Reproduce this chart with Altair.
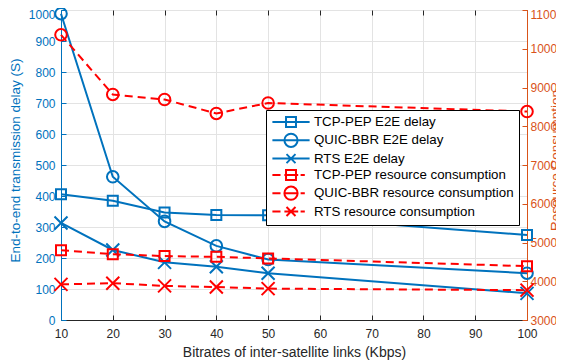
import altair as alt
import pandas as pd

bitrates = [10, 20, 30, 40, 50, 100]

tcp_delay = [406, 385, 347, 339, 338, 274]
quic_delay = [988, 462, 318, 239, 195, 151]
rts_delay = [313, 226, 186, 172, 151, 86]

tcp_res = [4800, 4700, 4650, 4630, 4590, 4390]
quic_res = [10360, 8820, 8690, 8330, 8600, 8380]
rts_res = [3920, 3950, 3880, 3850, 3810, 3770]

delay_names = ["TCP-PEP E2E delay", "QUIC-BBR E2E delay", "RTS E2E delay"]
res_names = ["TCP-PEP resource consumption", "QUIC-BBR resource consumption",
             "RTS resource consumption"]
all_names = delay_names + res_names

x_ticks = list(range(10, 101, 10))
left_ticks = list(range(0, 1001, 100))
right_ticks = list(range(3000, 11001, 1000))

rows = []
for name, vals in zip(delay_names, [tcp_delay, quic_delay, rts_delay]):
    for b, v in zip(bitrates, vals):
        rows.append({"bitrate": b, "delay": v, "series": name})
delay_df = pd.DataFrame(rows)

rows = []
for name, vals in zip(res_names, [tcp_res, quic_res, rts_res]):
    for b, v in zip(bitrates, vals):
        rows.append({"bitrate": b, "resource": v, "series": name})
res_df = pd.DataFrame(rows)

BLUE = "#0072BD"
RED = "#FF0000"
ORANGE = "#D95319"
DARK = "#262626"
FONT = "Liberation Sans"
INWARD = alt.ExprRef(expr="-5")

x_scale = alt.Scale(domain=[10, 100], nice=False)
XMARK = "M-1,-1L1,1M-1,1L1,-1"

x_enc = alt.X(
    "bitrate:Q", scale=x_scale,
    axis=alt.Axis(values=x_ticks, title="Bitrates of inter-satellite links (Kbps)",
                  grid=True, gridColor="#E3E3E3", ticks=True, tickSize=INWARD,
                  tickColor=DARK, tickWidth=1, labelFlush=False,
                  domainColor=DARK, labelColor=DARK, titleColor=DARK,
                  labelFontSize=12, titleFontSize=14, labelPadding=13,
                  labelFont=FONT, titleFont=FONT, titleFontWeight="normal",
                  titleY=36, titleBaseline="alphabetic"),
)

x_top = alt.X(
    "bitrate:Q", scale=x_scale,
    axis=alt.Axis(orient="top", values=x_ticks, title=None, labels=False,
                  grid=False, domain=False, ticks=True, tickSize=INWARD,
                  tickColor=DARK, tickWidth=1),
)

y_left = alt.Y(
    "delay:Q",
    scale=alt.Scale(domain=[0, 1000], nice=False, zero=False),
    axis=alt.Axis(orient="left", values=left_ticks,
                  title="End-to-end transmission delay (S)",
                  grid=True, gridColor="#E3E3E3", ticks=True, tickSize=INWARD,
                  tickColor=BLUE, tickWidth=1, labelFlush=False,
                  labelOffset={"condition": {"test": "datum.value === 1000", "value": 4},
                               "value": 0},
                  domainColor=BLUE, labelColor=BLUE, titleColor=BLUE,
                  labelFontSize=12, titleFontSize=13.5, labelPadding=11,
                  labelFont=FONT, titleFont=FONT, titleFontWeight="normal",
                  titleX=-46, titleY=150, titleAngle=270, titleAlign="center",
                  titleBaseline="middle", format="d"),
)

y_right = alt.Y(
    "resource:Q",
    scale=alt.Scale(domain=[3000, 11000], nice=False, zero=False),
    axis=alt.Axis(orient="right", values=right_ticks,
                  title="Resource Consumption",
                  grid=False, ticks=True, tickSize=INWARD,
                  tickColor=ORANGE, tickWidth=1, labelFlush=False,
                  labelOffset={"condition": {"test": "datum.value === 11000", "value": 4},
                               "value": 0},
                  domainColor=ORANGE, labelColor=ORANGE, titleColor=ORANGE,
                  labelFontSize=12, titleFontSize=13.5, labelPadding=8,
                  labelFont=FONT, titleFont=FONT, titleFontWeight="normal",
                  titleX=28, titleY=150, titleAngle=270, titleAlign="center",
                  titleBaseline="middle", format="d"),
)

delay_color = alt.Scale(domain=delay_names, range=[BLUE] * 3)
res_color = alt.Scale(domain=res_names, range=[RED] * 3)

delay_line = alt.Chart(delay_df).mark_line(strokeWidth=2).encode(
    x=x_enc, y=y_left,
    color=alt.Color("series:N", scale=delay_color, legend=None),
    detail="series:N",
)
delay_pts = alt.Chart(delay_df).mark_point(filled=False, strokeWidth=2, opacity=1).encode(
    x=x_enc, y=y_left,
    color=alt.Color("series:N", scale=delay_color, legend=None),
    shape=alt.Shape("series:N", scale=alt.Scale(domain=delay_names,
                                                range=["square", "circle", XMARK]),
                    legend=None),
    size=alt.Size("series:N", scale=alt.Scale(domain=delay_names, range=[100, 169, 100]),
                  legend=None),
)
delay_layer = alt.layer(delay_line, delay_pts)

res_line = alt.Chart(res_df).mark_line(strokeWidth=2, strokeDash=[8, 5]).encode(
    x=x_top, y=y_right,
    color=alt.Color("series:N", scale=res_color, legend=None),
    detail="series:N",
)
res_pts = alt.Chart(res_df).mark_point(filled=False, strokeWidth=2, opacity=1).encode(
    x=x_top, y=y_right,
    color=alt.Color("series:N", scale=res_color, legend=None),
    shape=alt.Shape("series:N", scale=alt.Scale(domain=res_names,
                                                range=["square", "circle", XMARK]),
                    legend=None),
    size=alt.Size("series:N", scale=alt.Scale(domain=res_names, range=[100, 169, 100]),
                  legend=None),
)
res_layer = alt.layer(res_line, res_pts)

# legend symbols: line + marker (1 unit = 6 px)
SQ = "M-0.83,-0.83H0.83V0.83H-0.83Z"
CI = "M-1.1,0A1.1,1.1 0 1,0 1.1,0A1.1,1.1 0 1,0 -1.1,0"
XX = "M-0.75,-0.75L0.75,0.75M-0.75,0.75L0.75,-0.75"
SOLID = "M-3.1,0H3.1"
DASH = "M-3.1,0H-1.75M-1.1,0H1.2M1.6,0H2.3"
legend_paths = [SOLID + SQ, SOLID + CI, SOLID + XX, DASH + SQ, DASH + CI, DASH + XX]

legend_props = dict(
    title=None, orient="none", legendX=205, legendY=100,
    strokeColor="black", fillColor="white", padding=5, rowPadding=-1.7,
    labelFontSize=13.3, labelFont=FONT, labelColor="black", labelLimit=400,
    symbolSize=144, symbolStrokeWidth=2, symbolOffset=13, labelOffset=16,
    symbolFillColor="transparent", cornerRadius=0,
)

legend_layer = alt.Chart(delay_df).transform_filter("false").mark_point(
    filled=False, strokeWidth=2, opacity=1).encode(
    color=alt.Color("series:N",
                    scale=alt.Scale(domain=all_names, range=[BLUE] * 3 + [RED] * 3),
                    legend=alt.Legend(**legend_props)),
    shape=alt.Shape("series:N", scale=alt.Scale(domain=all_names, range=legend_paths),
                    legend=alt.Legend(**legend_props)),
)

chart = alt.layer(delay_layer, res_layer, legend_layer).resolve_scale(
    y="independent", shape="independent", size="independent", color="independent"
).resolve_axis(x="independent").properties(
    width=466, height=310,
    autosize=alt.AutoSizeParams(type="none"),
    padding={"left": 53, "top": 2, "right": 29, "bottom": 45},
).configure_view(stroke="#404040", strokeWidth=1)

chart.save("out.html", embed_options={"renderer": "svg", "actions": False})
